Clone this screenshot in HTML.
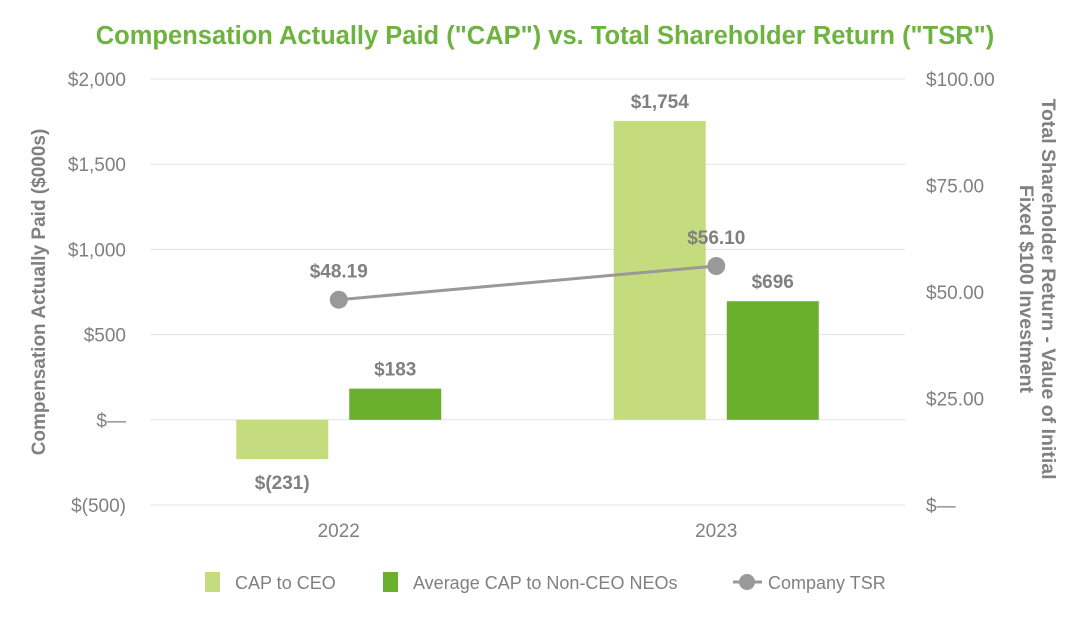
<!DOCTYPE html>
<html><head><meta charset="utf-8">
<style>
html,body{margin:0;padding:0;background:#fff;}
svg{display:block;font-family:"Liberation Sans",Arial,sans-serif;}
</style></head>
<body>
<svg id="chart" width="1090" height="628" viewBox="0 0 1090 628">
<text x="545" y="44" text-anchor="middle" font-size="25.5" font-weight="bold" fill="#6db33f">Compensation Actually Paid ("CAP") vs. Total Shareholder Return ("TSR")</text>
<g id="grid"></g>
<g id="bars"></g>
<g id="line"></g>
<g id="labels"></g>
<text transform="translate(45,292) rotate(-90)" text-anchor="middle" font-size="19" font-weight="bold" fill="#808080">Compensation Actually Paid ($000s)</text>
<text transform="translate(1042,289) rotate(90)" text-anchor="middle" font-size="19.5" font-weight="bold" fill="#808080"><tspan x="0" dy="0">Total Shareholder Return - Value of Initial</tspan><tspan x="0" dy="22">Fixed $100 Investment</tspan></text>
<g>
<rect x="205" y="572" width="15" height="20" fill="#c5dc7e"/>
<text x="235" y="589" font-size="18" fill="#808080">CAP to CEO</text>
<rect x="383" y="572" width="15" height="20" fill="#6aaf2e"/>
<text x="413" y="589" font-size="18" fill="#808080">Average CAP to Non-CEO NEOs</text>
<line x1="733" y1="582" x2="762" y2="582" stroke="#999" stroke-width="3"/>
<circle cx="747" cy="582" r="8" fill="#999"/>
<text x="768" y="589" font-size="18" fill="#808080">Company TSR</text>
</g>
</svg>
<script>
const categories = ["2022", "2023"];
const capCeo = [-231, 1754];
const capNeo = [183, 696];
const tsr = [48.19, 56.10];
const leftTicks = [-500, 0, 500, 1000, 1500, 2000];
const leftTickLabels = ["$(500)", "$—", "$500", "$1,000", "$1,500", "$2,000"];
const rightTicks = [0, 25, 50, 75, 100];
const rightTickLabels = ["$—", "$25.00", "$50.00", "$75.00", "$100.00"];
const capCeoLabels = ["$(231)", "$1,754"];
const capNeoLabels = ["$183", "$696"];
const tsrLabels = ["$48.19", "$56.10"];

const NS = "http://www.w3.org/2000/svg";
const X0 = 150, X1 = 905, YT = 79, YB = 505;
const yL = v => YB - (v + 500) / 2500 * (YB - YT);
const yR = v => YB - v / 100 * (YB - YT);
const band = (X1 - X0) / categories.length;
const cx = i => X0 + band * (i + 0.5);
function mk(tag, attrs, parent, txt) {
  const e = document.createElementNS(NS, tag);
  for (const k in attrs) e.setAttribute(k, attrs[k]);
  if (txt !== undefined) e.textContent = txt;
  document.getElementById(parent).appendChild(e);
  return e;
}
leftTicks.forEach((t, i) => {
  const g = mk("line", {x1: X0, x2: X1, y1: yL(t), y2: yL(t), stroke: "#e3e3e3", "stroke-width": 1}, "grid");
  
  
  const l = mk("text", {x: 126, y: yL(t) + 7, "text-anchor": "end", "font-size": 19, fill: "#808080"}, "grid", leftTickLabels[i]);
  
  
});
rightTicks.forEach((t, i) => {
  const l = mk("text", {x: 926, y: yR(t) + 7, "font-size": 19, fill: "#808080"}, "grid", rightTickLabels[i]);
  
  
});
const bw = 92, gap = 21;
categories.forEach((c, i) => {
  const xl = mk("text", {x: cx(i), y: 537, "text-anchor": "middle", "font-size": 19, fill: "#808080"}, "labels", c);
  
  
  const x1 = cx(i) - bw - gap / 2 + 10, x2 = cx(i) + gap / 2 + 10;
  const y0 = yL(0);
  const v1 = yL(capCeo[i]);
  const b1 = mk("rect", {x: x1 - 10, y: Math.min(v1, y0), width: bw, height: Math.abs(y0 - v1), fill: "#c5dc7e"}, "bars");
  
  
  const v2 = yL(capNeo[i]);
  const b2 = mk("rect", {x: x2 - 10, y: Math.min(v2, y0), width: bw, height: Math.abs(y0 - v2), fill: "#6aaf2e"}, "bars");
  
  
  const ly1 = capCeo[i] >= 0 ? v1 - 13 : v1 + 30;
  const t1 = mk("text", {x: x1 - 10 + bw / 2, y: ly1, "text-anchor": "middle", "font-size": 19, "font-weight": "bold", fill: "#808080"}, "labels", capCeoLabels[i]);
  
  
  const ly2 = capNeo[i] >= 0 ? v2 - 13 : v2 + 30;
  const t2 = mk("text", {x: x2 - 10 + bw / 2, y: ly2, "text-anchor": "middle", "font-size": 19, "font-weight": "bold", fill: "#808080"}, "labels", capNeoLabels[i]);
  
  
});
const pts = tsr.map((v, i) => cx(i) + "," + yR(v)).join(" ");
const pl = mk("polyline", {points: pts, fill: "none", stroke: "#999", "stroke-width": 3}, "line");


tsr.forEach((v, i) => {
  const c = mk("circle", {cx: cx(i), cy: yR(v), r: 9, fill: "#999"}, "line");
  
  
  const t = mk("text", {x: cx(i), y: yR(v) - 22, "text-anchor": "middle", "font-size": 19, "font-weight": "bold", fill: "#808080"}, "labels", tsrLabels[i]);
  
  
});
</script>
</body></html>
